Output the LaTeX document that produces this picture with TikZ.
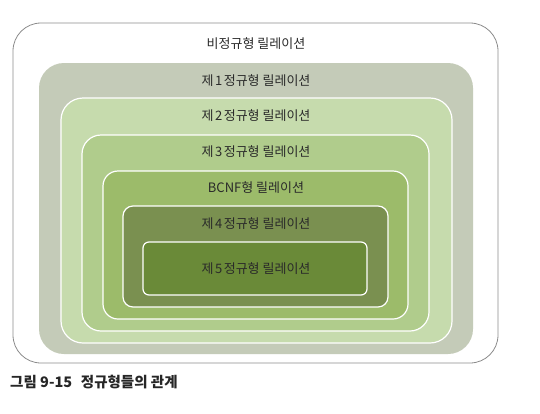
\documentclass[tikz,border=0pt]{standalone}
\usepackage{fontspec}
\setmainfont{Noto Sans CJK KR}
\definecolor{nfone}{HTML}{C4CBB8}
\definecolor{nftwo}{HTML}{C6DBAD}
\definecolor{nfthree}{HTML}{B0CC8C}
\definecolor{nfbcnf}{HTML}{9CBB6A}
\definecolor{nffour}{HTML}{7A9050}
\definecolor{nffive}{HTML}{6A8A38}
\definecolor{nftext}{HTML}{2A2A2A}
\newcommand{\nfname}[1]{제\hspace{0.12em}#1\hspace{0.12em}정규형 릴레이션}
\tikzset{
  nfbox/.style={fill=#1, draw=white, line width=1.2pt},
  nflabel/.style={text=nftext, font=\fontsize{13}{15}\selectfont, inner sep=0pt}
}
\begin{document}
\begin{tikzpicture}[x=1pt,y=-1pt]
\useasboundingbox (0,0) rectangle (540,413);
\draw[fill=white, draw=black!45, line width=0.8pt, rounded corners=28pt] (13,23) rectangle (498,363);
\fill[nfone, rounded corners=25pt] (39,63) rectangle (473,354);
\draw[nfbox=nftwo, rounded corners=22pt] (61,98) rectangle (452,343);
\draw[nfbox=nfthree, rounded corners=19pt] (82,135) rectangle (429,331);
\draw[nfbox=nfbcnf, rounded corners=15pt] (103,171) rectangle (408,319);
\draw[nfbox=nffour, rounded corners=10pt] (123,206) rectangle (388,307);
\draw[nfbox=nffive, rounded corners=6pt] (143,242) rectangle (367,295);

\node[nflabel] (unnorm) at (256,44) {비정규형 릴레이션};
\node[nflabel] (nf1) at (256,81) {\nfname{1}};
\node[nflabel] (nf2) at (256,116) {\nfname{2}};
\node[nflabel] (nf3) at (256,152) {\nfname{3}};
\node[nflabel] (bcnf) at (256,188) {BCNF형 릴레이션};
\node[nflabel] (nf4) at (256,224) {\nfname{4}};
\node[nflabel] (nf5) at (256,269) {\nfname{5}};

\node[anchor=west, text=black!85, font=\fontsize{14.5}{16}\selectfont\bfseries, inner sep=0pt] (caption) at (10,382) {그림 9-15\hspace{0.6em}정규형들의 관계};
\end{tikzpicture}
\end{document}
